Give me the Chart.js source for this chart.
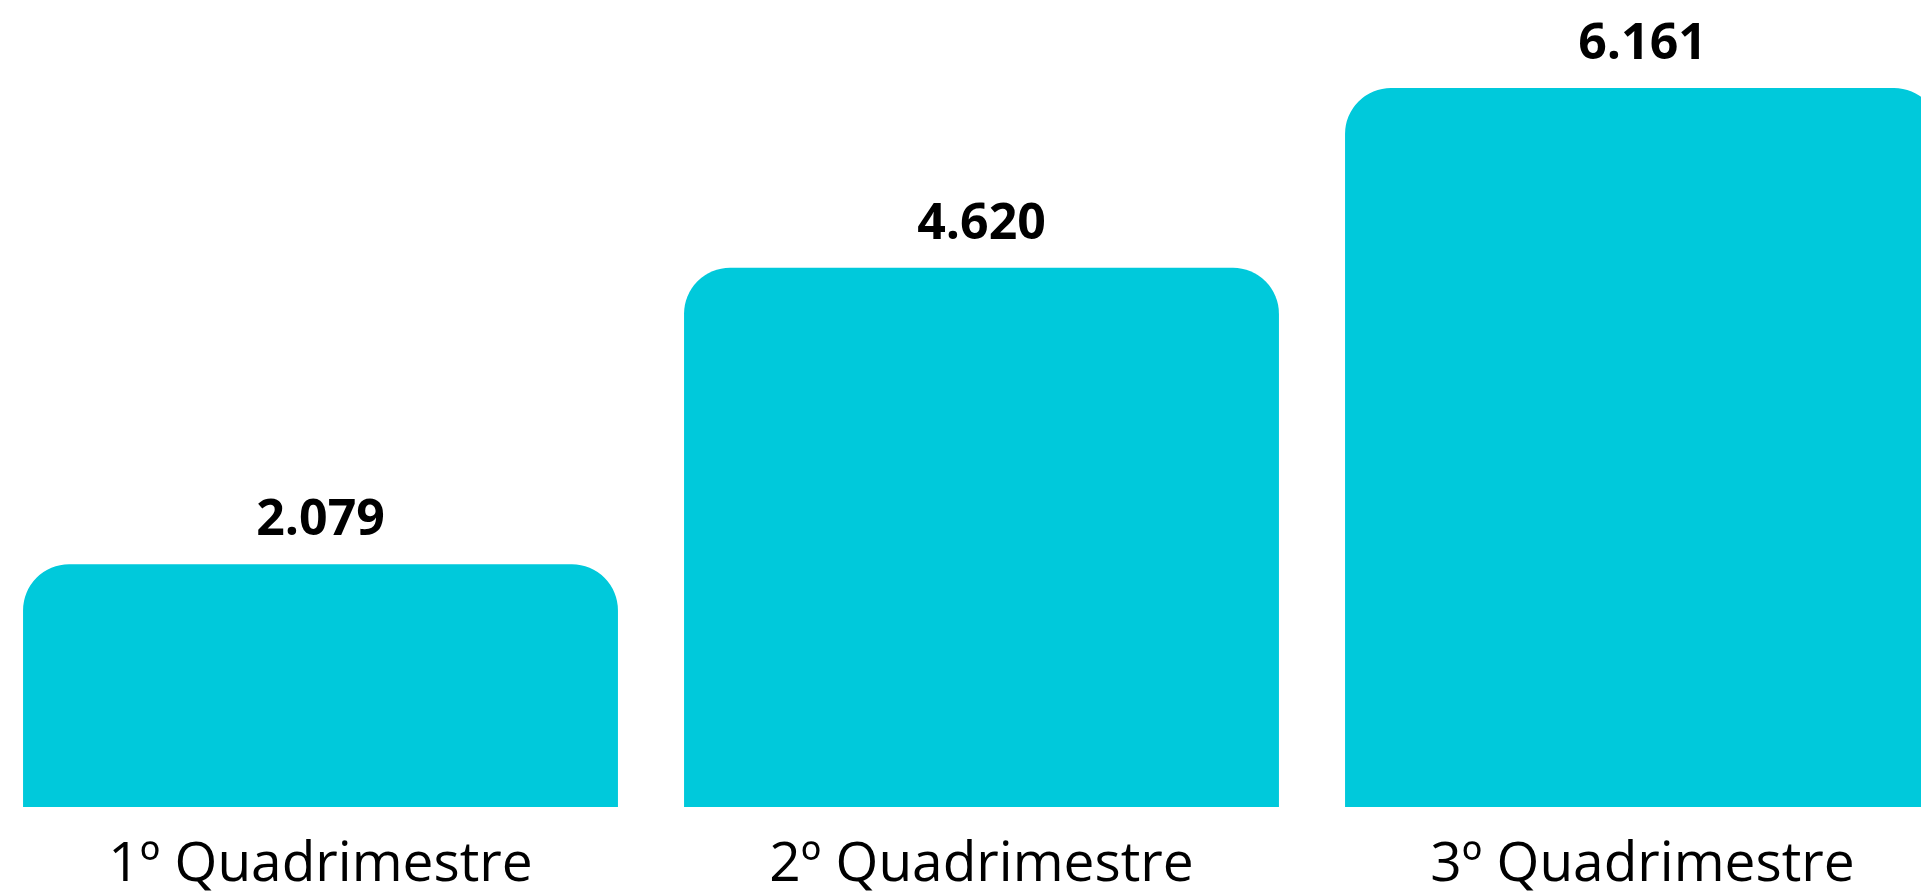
<!DOCTYPE html>
<html>
<head>
<meta charset="utf-8">
<script src="https://cdn.jsdelivr.net/npm/chart.js@4/dist/chart.umd.min.js"></script>
<style>
  html, body { margin: 0; padding: 0; background: #ffffff; overflow: hidden; width: 1921px; height: 891px; }
  #wrap { position: absolute; left: -10px; top: -10px; width: 1983px; height: 933px; }
</style>
</head>
<body>
<div id="wrap"><canvas id="quadChart"></canvas></div>
<script>
var quadLabels = ["1º Quadrimestre", "2º Quadrimestre", "3º Quadrimestre"];
var quadValues = [2079, 4620, 6161];
var yMax = 7000;

function formatNumber(v) {
  return String(v).replace(/\B(?=(\d{3})+(?!\d))/g, ".");
}

// draws the bold number above each bar
var valueLabels = {
  id: "valueLabels",
  afterDatasetsDraw: function(chart) {
    var ctx = chart.ctx;
    var meta = chart.getDatasetMeta(0);
    ctx.save();
    ctx.font = "bold 50px 'Open Sans'";
    ctx.fillStyle = "#000000";
    ctx.textAlign = "center";
    ctx.textBaseline = "alphabetic";
    meta.data.forEach(function(bar, i) {
      ctx.fillText(formatNumber(quadValues[i]), bar.x, bar.y - 29);
    });
    ctx.restore();
  }
};

document.addEventListener("DOMContentLoaded", function() {
  new Chart(document.getElementById("quadChart"), {
    type: "bar",
    data: {
      labels: quadLabels,
      datasets: [{
        data: quadValues,
        backgroundColor: "#00C9DB",
        borderWidth: 0,
        borderRadius: { topLeft: 46, topRight: 46, bottomLeft: 0, bottomRight: 0 },
        borderSkipped: false,
        categoryPercentage: 0.9,
        barPercentage: 1.0
      }]
    },
    options: {
      responsive: true,
      maintainAspectRatio: false,
      animation: false,
      layout: { padding: 0 },
      plugins: {
        legend: { display: false },
        tooltip: { enabled: false }
      },
      scales: {
        x: {
          grid: { display: false, drawTicks: false },
          border: { display: false },
          ticks: {
            color: "#000000",
            padding: 25,
            font: { family: "'Open Sans'", size: 55, lineHeight: 1.2 }
          }
        },
        y: {
          display: false,
          min: 0,
          max: yMax
        }
      }
    },
    plugins: [valueLabels]
  });
});
</script>
</body>
</html>
